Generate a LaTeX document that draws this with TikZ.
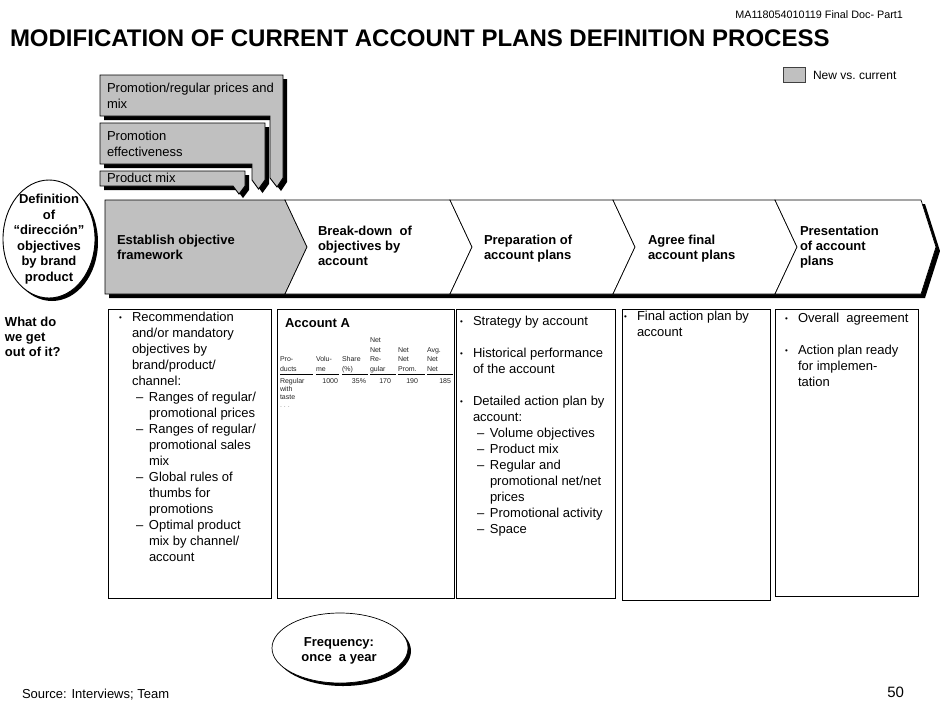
\documentclass[tikz,border=0pt]{standalone}
\usepackage{fontspec}
\setmainfont{Liberation Sans}
\definecolor{boxgray}{RGB}{192,192,192}
\newcommand\fs[2]{\fontsize{#1}{#2}\selectfont}
\newcommand\bitem[1]{\makebox[13pt][l]{\raisebox{0.8pt}{\fs{8}{8}\textbullet}}#1}
\newcommand\bcont[1]{\hspace*{13pt}#1}
\newcommand\ditem[1]{\hspace*{17pt}\makebox[13pt][l]{–}#1}
\newcommand\dcont[1]{\hspace*{30pt}#1}
\newcommand\fst{\rule{0pt}{10pt}}
\newcommand\tst{\rule{0pt}{5.5pt}}
\begin{document}
\begin{tikzpicture}[x=1pt,y=-1pt,
  lw/.style={line width=0.9pt},
  chev/.style={draw=black, line width=0.7pt},
  body/.style={inner sep=0pt, outer sep=0pt, font=\fs{13}{16}, align=left, anchor=north west},
  ctext/.style={inner sep=0pt, outer sep=0pt, font=\bfseries\fs{13}{15}, align=left, anchor=north west},
  tb/.style={inner sep=0pt, outer sep=0pt, font=\fs{7}{9.5}, align=left, anchor=north west, text=black!85},
  tv/.style={inner sep=0pt, outer sep=0pt, font=\fs{7}{9.5}, anchor=base east, text=black!85},
  plain/.style={inner sep=0pt, outer sep=0pt}]
\useasboundingbox (0,0) rectangle (940,705);
\fill[white] (0,0) rectangle (940,705);

% header
\node[plain, anchor=base east, font=\fs{10.8}{12}] (docid) at (903,18) {MA118054010119 Final Doc- Part1};
\node[plain, anchor=base west, font=\bfseries\fs{24}{28}] (title) at (10,46.5) {MODIFICATION OF CURRENT ACCOUNT PLANS DEFINITION PROCESS};
\draw[fill=boxgray, draw=black!75, line width=0.6pt] (783,67) rectangle (805,82);
\node[plain, anchor=base west, font=\fs{12}{14}] (legend) at (813,79) {New vs.\ current};

% notched gray boxes with shadows
\fill[black] (104,79) -- (287,79) -- (287,182) -- (281,191) -- (274,182) -- (274,120) -- (104,120) -- cycle;
\draw[lw, fill=boxgray] (100,75) -- (283,75) -- (283,178) -- (277,187) -- (270,178) -- (270,116) -- (100,116) -- cycle;
\fill[black] (104,127) -- (269,127) -- (269,184) -- (262.5,193) -- (256,184) -- (256,168) -- (104,168) -- cycle;
\draw[lw, fill=boxgray] (100,123) -- (265,123) -- (265,180) -- (258.5,189) -- (252,180) -- (252,164) -- (100,164) -- cycle;
\fill[black] (104,175) -- (249,175) -- (249,190) -- (243,198) -- (237,190) -- (104,190) -- cycle;
\draw[lw, fill=boxgray] (100,171) -- (245,171) -- (245,186) -- (239,194) -- (233,186) -- (100,186) -- cycle;
\node[body] (pb1) at (107,82) {\fst Promotion/regular prices and\\mix};
\node[body] (pb2) at (107,130) {\fst Promotion\\effectiveness};
\node[body, font=\fs{13}{13}] (pb3) at (107,172.5) {\fst Product mix};

% definition ellipse
\fill[black] (52,242) ellipse [x radius=46pt, y radius=59pt];
\draw[lw, fill=white] (49,239) ellipse [x radius=46pt, y radius=59pt];
\node[plain, anchor=north, align=center, font=\bfseries\fs{13}{15.5}] (defn) at (49,193.5) {\fst Definition\\of\\“dirección”\\objectives\\by brand\\product};

% chevrons
\fill[black] (109,204) -- (925,204) -- (940,251) -- (925,298) -- (109,298) -- cycle;
\draw[chev, fill=boxgray] (105,200) -- (285,200) -- (307,247) -- (285,294) -- (105,294) -- cycle;
\draw[chev, fill=white] (285,200) -- (450,200) -- (472,247) -- (450,294) -- (285,294) -- (307,247) -- cycle;
\draw[chev, fill=white] (450,200) -- (613,200) -- (635,247) -- (613,294) -- (450,294) -- (472,247) -- cycle;
\draw[chev, fill=white] (613,200) -- (775,200) -- (797,247) -- (775,294) -- (613,294) -- (635,247) -- cycle;
\draw[chev, fill=white] (775,200) -- (921,200) -- (936,247) -- (921,294) -- (775,294) -- (797,247) -- cycle;
\node[ctext] (c1) at (117,234) {\fst Establish objective\\framework};
\node[ctext] (c2) at (318,225.5) {\fst Break-down\ \ of\\objectives by\\account};
\node[ctext] (c3) at (484,234) {\fst Preparation of\\account plans};
\node[ctext] (c4) at (648,234) {\fst Agree final\\account plans};
\node[ctext] (c5) at (800,225.5) {\fst Presentation\\of account\\plans};

\node[plain, anchor=north west, align=left, font=\bfseries\fs{13}{15}] (what) at (5,316) {\fst What do\\we get\\out of it?};

% content boxes
\draw[lw] (108,309) rectangle (271,598);
\draw[lw] (277,309) rectangle (454,598);
\draw[lw] (456,309) rectangle (615,598);
\draw[lw] (622,309) rectangle (770,600);
\draw[lw] (775,309) rectangle (918,596);

\node[body] (ta) at (119,311) {\fst\bitem{Recommendation}\\
\bcont{and/or mandatory}\\
\bcont{objectives by}\\
\bcont{brand/product/}\\
\bcont{channel:}\\
\ditem{Ranges of regular/}\\
\dcont{promotional prices}\\
\ditem{Ranges of regular/}\\
\dcont{promotional sales}\\
\dcont{mix}\\
\ditem{Global rules of}\\
\dcont{thumbs for}\\
\dcont{promotions}\\
\ditem{Optimal product}\\
\dcont{mix by channel/}\\
\dcont{account}};

\node[body] (tc) at (460,315) {\fst\bitem{Strategy by account}\\[16pt]
\bitem{Historical performance}\\
\bcont{of the account}\\[16pt]
\bitem{Detailed action plan by}\\
\bcont{account:}\\
\ditem{Volume objectives}\\
\ditem{Product mix}\\
\ditem{Regular and}\\
\dcont{promotional net/net}\\
\dcont{prices}\\
\ditem{Promotional activity}\\
\ditem{Space}};

\node[body] (td) at (624,310) {\fst\bitem{Final action plan by}\\
\bcont{account}};

\node[body] (te) at (785,312) {\fst\bitem{Overall\ \ agreement}\\[16pt]
\bitem{Action plan ready}\\
\bcont{for implemen-}\\
\bcont{tation}};

% Account A table
\node[plain, anchor=base west, font=\bfseries\fs{13}{15}] (acc) at (285,327.5) {Account A};
\node[tb] (h1) at (280,356) {\tst Pro-\\ducts};
\node[tb] (h2) at (316,356) {\tst Volu-\\me};
\node[tb] (h3) at (342,356) {\tst Share\\(\%)};
\node[tb] (h4) at (370,337) {\tst Net\\Net\\Re-\\gular};
\node[tb] (h5) at (398,346.5) {\tst Net\\Net\\Prom.};
\node[tb] (h6) at (427,346.5) {\tst Avg.\\Net\\Net};
\foreach \a/\b in {280/313,316/339,342/368,370/396,398/425,427/453}
  \draw[line width=0.6pt] (\a,374.5) -- (\b,374.5);
\node[tb, font=\fs{7}{8}] (r1) at (280,378) {\tst Regular\\with\\taste};
\node[tb, text=black!45] (dots) at (280,402) {\tst .\ .\ .};
\node[tv] (v1) at (338,383.5) {1000};
\node[tv] (v2) at (366,383.5) {35\%};
\node[tv] (v3) at (391,383.5) {170};
\node[tv] (v4) at (418,383.5) {190};
\node[tv] (v5) at (451,383.5) {185};

% frequency ellipse
\fill[black] (343,651) ellipse [x radius=68pt, y radius=35pt];
\draw[line width=0.7pt, fill=white] (340,648) ellipse [x radius=68pt, y radius=35pt];
\node[plain, anchor=north, align=center, font=\bfseries\fs{13}{15}] (freq) at (339,636.5) {\fst Frequency:\\once\ \ a year};

% footer
\node[plain, anchor=base west, font=\fs{13}{15}] (src) at (22,698) {Source: Interviews; Team};
\node[plain, anchor=base east, font=\fs{15}{17}] (pg) at (904,697) {50};
\end{tikzpicture}
\end{document}
